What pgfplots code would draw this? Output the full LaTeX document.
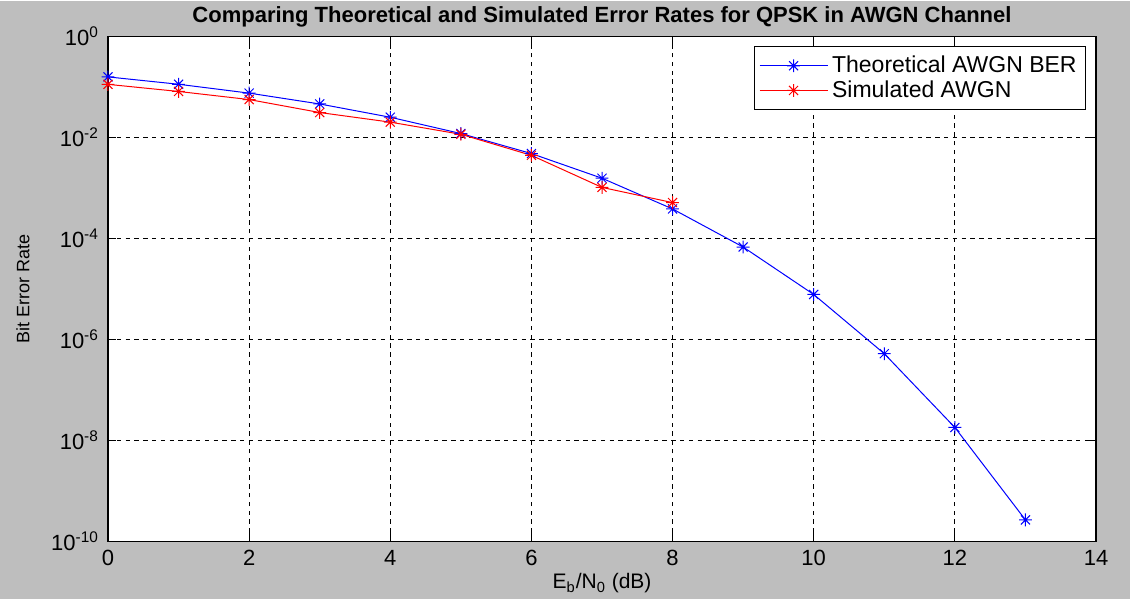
\documentclass[border=0pt]{standalone}
\usepackage{fontspec}
\setmainfont{Liberation Sans}
\usepackage{pgfplots}
\pgfplotsset{compat=1.18}
\definecolor{figgray}{HTML}{BEBEBE}
\definecolor{mblue}{HTML}{0000FF}
\definecolor{mred}{HTML}{FF0000}

% MATLAB-like eight-armed asterisk
\pgfdeclareplotmark{mstar}{%
  \pgfpathmoveto{\pgfqpoint{-\pgfplotmarksize}{0pt}}%
  \pgfpathlineto{\pgfqpoint{\pgfplotmarksize}{0pt}}%
  \pgfpathmoveto{\pgfqpoint{0pt}{-\pgfplotmarksize}}%
  \pgfpathlineto{\pgfqpoint{0pt}{\pgfplotmarksize}}%
  \pgfpathmoveto{\pgfqpoint{-0.707\pgfplotmarksize}{-0.707\pgfplotmarksize}}%
  \pgfpathlineto{\pgfqpoint{0.707\pgfplotmarksize}{0.707\pgfplotmarksize}}%
  \pgfpathmoveto{\pgfqpoint{-0.707\pgfplotmarksize}{0.707\pgfplotmarksize}}%
  \pgfpathlineto{\pgfqpoint{0.707\pgfplotmarksize}{-0.707\pgfplotmarksize}}%
  \pgfusepathqstroke}

\pgfplotstableread{
snr ber
0  0.1573
1  0.1125
2  0.0751
3  0.0458
4  0.0250
5  0.0119
6  0.00477
7  0.00155
8  3.82e-4
9  6.73e-5
10 7.74e-6
11 5.2e-7
12 1.8e-8
13 2.66e-10
}\theory

\pgfplotstableread{
snr ber
0  0.112
1  0.081
2  0.056
3  0.031
4  0.020
5  0.0115
6  0.0044
7  0.00102
8  5.1e-4
}\simul

\begin{document}
\begin{tikzpicture}[x=1pt,y=1pt]
  % figure background, 1px = 0.5pt
  \fill[figgray] (-54,-29) rectangle (511,270);
  \begin{axis}[
      at={(0,0)}, anchor=south west,
      scale only axis,
      width=494pt, height=252.5pt,
      ymode=log,
      xmin=0, xmax=14, ymin=1e-10, ymax=1,
      xtick={0,2,...,14},
      ytick={1e-10,1e-8,1e-6,1e-4,1e-2,1},
      yticklabels={10\textsuperscript{-10},10\textsuperscript{-8},10\textsuperscript{-6},10\textsuperscript{-4},10\textsuperscript{-2},10\textsuperscript{0}},
      minor ytick={},
      /pgf/number format/assume math mode=true,
      tick align=inside,
      major tick length=4pt,
      tick style={black, line width=0.5pt},
      axis line style={black, line width=0.6pt},
      axis background/.style={fill=white},
      grid=major,
      major grid style={black, line width=0.45pt, dash pattern=on 2.2pt off 2.2pt},
      tick label style={font=\fontsize{11}{13}\selectfont},
      xticklabel style={yshift=-1pt},
      yticklabel style={xshift=-1pt},
      title={\textbf{Comparing Theoretical and Simulated Error Rates for QPSK in AWGN Channel}},
      title style={font=\fontsize{11}{13}\selectfont, yshift=-5pt},
      xlabel={E\textsubscript{b}/N\textsubscript{0} (dB)},
      ylabel={Bit Error Rate},
      xlabel style={font=\fontsize{10.5}{12}\selectfont, yshift=3pt},
      ylabel style={font=\fontsize{9}{11}\selectfont, yshift=4pt},
      legend style={at={(0.99,0.98)}, anchor=north east, draw=black, line width=0.5pt,
        font=\fontsize{11.5}{13}\selectfont, inner sep=2.5pt, row sep=-1.5pt},
      legend cell align=left,
      legend image code/.code={
        \draw[#1] (0pt,0pt) -- (34pt,0pt);
        \draw[#1, mark repeat=1] plot coordinates {(17pt,0pt)};
      },
    ]
    \addplot[mblue, line width=0.5pt, mark=mstar, mark size=3.2pt] table[x=snr, y=ber] {\theory};
    \addlegendentry{Theoretical AWGN BER}
    \addplot[mred, line width=0.5pt, mark=mstar, mark size=3.2pt] table[x=snr, y=ber] {\simul};
    \addlegendentry{Simulated AWGN}
  \end{axis}
\end{tikzpicture}
\end{document}
